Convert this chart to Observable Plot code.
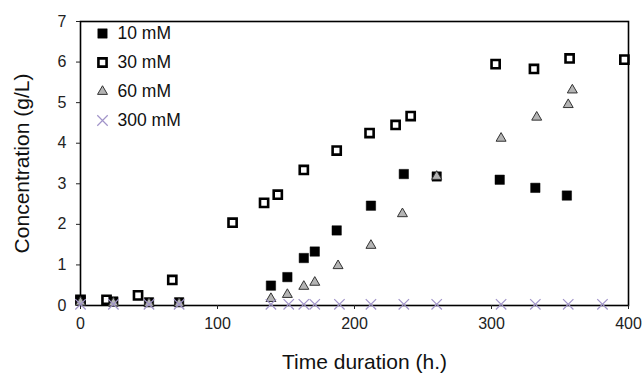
<!DOCTYPE html>
<html>
<head>
<meta charset="utf-8">
<script src="https://cdn.jsdelivr.net/npm/d3@7"></script>
<script src="https://cdn.jsdelivr.net/npm/@observablehq/plot@0.6"></script>
<style>
  html, body { margin: 0; padding: 0; background: #fff; }
</style>
</head>
<body>
<div id="chart"></div>
<script>
const seriesNames = ["10 mM", "30 mM", "60 mM", "300 mM"];

const t10 = [0, 24, 50, 72, 139, 151, 163, 171, 187, 212, 236, 260, 306, 332, 355];
const c10 = [0.12, 0.10, 0.08, 0.08, 0.49, 0.70, 1.17, 1.33, 1.85, 2.46, 3.24, 3.18, 3.10, 2.90, 2.71];

const t30 = [0, 19, 42, 67, 111, 134, 144, 163, 187, 211, 230, 241, 303, 331, 357, 397];
const c30 = [0.14, 0.14, 0.25, 0.63, 2.04, 2.53, 2.73, 3.34, 3.82, 4.25, 4.45, 4.67, 5.95, 5.83, 6.09, 6.06];

const t60 = [0, 24, 50, 72, 139, 151, 163, 171, 188, 212, 235, 260, 307, 333, 356, 359];
const c60 = [0.08, 0.06, 0.05, 0.05, 0.17, 0.27, 0.47, 0.57, 0.98, 1.48, 2.26, 3.18, 4.12, 4.64, 4.95, 5.31];

const t300 = [0, 24, 50, 72, 139, 152, 163, 171, 189, 212, 236, 260, 307, 332, 356, 381];
const c300 = [0.03, 0.03, 0.03, 0.03, 0.03, 0.03, 0.03, 0.03, 0.03, 0.03, 0.03, 0.03, 0.03, 0.03, 0.03, 0.03];

const xTicks = [0, 100, 200, 300, 400];
const yTicks = [0, 1, 2, 3, 4, 5, 6, 7];
const xTitle = "Time duration (h.)";
const yTitle = "Concentration (g/L)";

const toRows = (ts, cs) => ts.map((t, i) => ({t, c: cs[i]}));
const d10 = toRows(t10, c10);
const d30 = toRows(t30, c30);
const d60 = toRows(t60, c60);
const d300 = toRows(t300, c300);

const styles = [
  {symbol: "square", r: 5.3, fill: "#000", stroke: "#000", strokeWidth: 0.5},
  {symbol: "square", r: 4.6, fill: "#fff", stroke: "#000", strokeWidth: 2.6},
  {symbol: "triangle", r: 3.7, fill: "#b4b4b4", stroke: "#333", strokeWidth: 1},
  {symbol: "times", r: 4.8, fill: "none", stroke: "#a194c9", strokeWidth: 1.2}
];

const legendMarks = [];
seriesNames.forEach((name, i) => {
  legendMarks.push(Plot.dot([name], {frameAnchor: "top-left", dx: 22, dy: 12 + 29 * i, ...styles[i]}));
  legendMarks.push(Plot.text([name], {frameAnchor: "top-left", dx: 37, dy: 12 + 29 * i, text: d => d, textAnchor: "start", lineAnchor: "middle", fontSize: 17.5, fill: "#111"}));
});

const chart = Plot.plot({
  width: 642,
  height: 373,
  marginLeft: 80,
  marginRight: 14,
  marginTop: 21,
  marginBottom: 68,
  style: {fontFamily: "'Liberation Sans', Arial, sans-serif", fontSize: "16px", color: "#222", background: "#fff"},
  x: {domain: [0, 400]},
  y: {domain: [0, 7]},
  marks: [
    Plot.frame({stroke: "#000", strokeWidth: 1.6}),
    Plot.axisX({ticks: xTicks, tickSize: 4, tickPadding: 8, label: null, fontSize: 16, tickFormat: d => String(d)}),
    Plot.axisY({ticks: yTicks, tickSize: 4, tickPadding: 10, label: null, fontSize: 16, tickFormat: d => String(d)}),
    Plot.text([xTitle], {frameAnchor: "bottom", dx: 10, dy: 57, text: d => d, textAnchor: "middle", lineAnchor: "middle", fontSize: 21, fill: "#111"}),
    Plot.text([yTitle], {frameAnchor: "left", dx: -58, rotate: -90, text: d => d, textAnchor: "middle", lineAnchor: "middle", fontSize: 21, fill: "#111"}),
    Plot.dot(d30, {x: "t", y: "c", ...styles[1]}),
    Plot.dot(d10, {x: "t", y: "c", ...styles[0]}),
    Plot.dot(d60, {x: "t", y: "c", ...styles[2]}),
    Plot.dot(d300, {x: "t", y: "c", ...styles[3]}),
    ...legendMarks
  ]
});
document.getElementById("chart").appendChild(chart);
</script>
</body>
</html>
